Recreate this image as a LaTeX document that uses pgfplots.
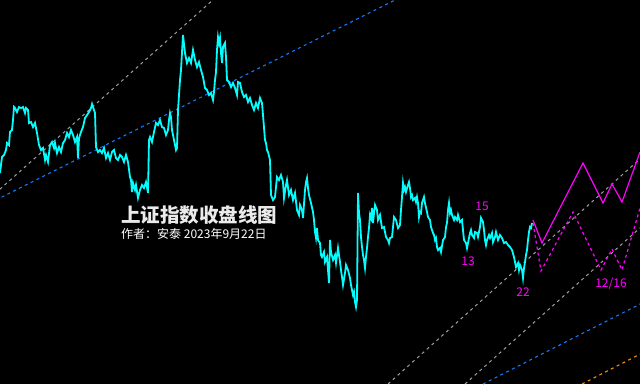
\documentclass[border=0pt]{standalone}
\usepackage{fontspec}
\setmainfont{Noto Sans CJK SC}
\usepackage{pgfplots}
\pgfplotsset{compat=1.18}
\definecolor{cy}{RGB}{0,255,255}
\definecolor{mg}{RGB}{255,0,255}
\definecolor{gr}{RGB}{160,160,160}
\definecolor{bl}{RGB}{20,120,255}
\definecolor{org}{RGB}{255,140,0}
\begin{document}
\begin{tikzpicture}
\begin{axis}[
  scale only axis, width=640pt, height=384pt,
  xmin=0, xmax=640, ymin=0, ymax=384, y dir=reverse,
  hide axis, clip=true,
]
\fill[black] (rel axis cs:0,0) rectangle (rel axis cs:1,1);
% trend lines
\addplot[gr, line width=1pt, dash pattern=on 3pt off 3.5pt] coordinates {(-10,198) (223,-9)};
\addplot[bl, line width=1.1pt, dash pattern=on 3pt off 3.5pt] coordinates {(-10,203) (400,-2.5)};
\addplot[gr, line width=1pt, dash pattern=on 3pt off 3.5pt] coordinates {(388,384) (650,150)};
\addplot[gr, line width=1pt, dash pattern=on 3pt off 3.5pt] coordinates {(465,384) (650,219)};
\addplot[bl, line width=1.1pt, dash pattern=on 3pt off 3.5pt] coordinates {(483,384) (650,299)};
\addplot[org, line width=1.1pt, dash pattern=on 3pt off 3.5pt] coordinates {(582,384) (650,349)};
% projections
\addplot[mg, line width=1.2pt] coordinates {(533,220) (542,243) (583,163) (603,203) (612,184) (622,202) (640,152)};
\addplot[mg, line width=1.2pt, dash pattern=on 3pt off 3pt] coordinates {(533,223) (541,271) (573,212) (601,270) (612,249) (622,270) (640,208)};
% index close
\addplot[cy, line width=1.8pt] coordinates {
(0,173) (2,157) (4,155) (6,150) (7,143) (9,145) (10,132) (12,130) (13,120) (14,107)
(15,108) (17,112) (19,107) (21,108) (23,107) (25,113) (26,108) (28,110) (29,123) (31,122)
(33,127) (35,123) (37,133) (39,145) (41,150) (43,148) (45,160) (46,155) (48,162) (50,145)
(52,142) (54,148) (55,143) (57,153) (59,147) (61,152) (63,143) (65,140) (67,133) (69,137)
(71,130) (73,135) (75,142) (77,137) (78,158) (79,138) (81,132) (83,127) (85,118) (87,115)
(89,112) (91,108) (92,104) (94,110) (95,113) (96,147) (98,152) (100,150) (102,153) (104,148)
(106,158) (108,153) (110,160) (112,152) (114,150) (116,158) (118,160) (120,155) (122,157) (124,162)
(126,155) (128,162) (130,177) (131,180) (132,192) (133,183) (135,190) (136,185) (138,198) (140,190)
(142,185) (144,188) (146,182) (148,193) (149,140) (150,137) (152,142) (154,132) (156,123) (158,125)
(160,120) (162,127) (164,128) (166,135) (168,130) (169,120) (170,113) (171,117) (172,130) (174,140)
(176,150) (177,148) (178,110) (180,80) (181,70) (183,35) (185,53) (187,63) (189,58) (191,63)
(193,50) (195,60) (197,67) (199,62) (201,70) (203,77) (205,88) (207,90) (209,95) (211,93)
(213,100) (214,92) (215,80) (216,72) (217,50) (218,37) (219,43) (220,38) (221,53) (222,63)
(223,47) (225,43) (226,57) (227,80) (229,82) (231,87) (233,83) (235,88) (237,95) (238,82)
(240,83) (242,92) (244,97) (246,95) (248,102) (250,98) (252,105) (254,110) (256,103) (258,108)
(260,98) (262,103) (263,115) (265,140) (266,143) (267,150) (268,152) (270,160) (271,195) (273,200)
(275,197) (277,177) (279,180) (281,175) (283,182) (284,198) (286,185) (287,180) (289,195) (291,190)
(293,200) (295,193) (297,210) (299,215) (300,205) (302,210) (303,218) (305,190) (306,182) (307,178)
(308,188) (309,195) (311,203) (313,212) (314,220) (315,232) (316,238) (317,228) (318,240) (320,243)
(321,255) (322,257) (324,252) (325,262) (327,257) (328,270) (329,283) (330,240) (331,252) (333,260)
(335,255) (336,263) (338,248) (340,262) (341,270) (342,277) (343,285) (345,273) (346,265) (348,270)
(350,278) (351,285) (352,290) (353,295) (354,292) (355,302) (356,307) (357,300) (358,193) (359,213)
(360,220) (361,237) (362,247) (363,255) (364,260) (365,268) (366,257) (367,248) (368,237) (369,228)
(370,215) (371,218) (372,208) (373,223) (374,213) (375,205) (377,210) (378,220) (380,215) (382,228)
(384,227) (386,237) (388,240) (389,243) (390,238) (392,237) (393,227) (394,217) (396,220) (398,228)
(400,225) (401,210) (402,197) (403,183) (404,190) (405,187) (406,192) (408,185) (409,182) (410,188)
(411,197) (412,195) (413,200) (415,198) (416,202) (417,197) (418,203) (419,217) (420,212) (421,213)
(422,203) (424,197) (425,203) (427,212) (428,217) (430,220) (431,227) (433,233) (434,235) (435,240)
(436,238) (437,247) (438,250) (440,248) (441,252) (443,240) (445,237) (446,227) (447,223) (448,210)
(449,203) (450,213) (451,210) (452,215) (454,220) (455,217) (457,220) (458,215) (460,222) (462,220)
(463,230) (464,240) (466,243) (467,248) (468,243) (470,233) (471,230) (472,235) (474,238) (475,232)
(477,233) (478,237) (480,227) (481,218) (483,222) (484,230) (485,240) (486,245) (487,240) (489,235)
(490,238) (492,233) (493,242) (495,237) (496,232) (498,240) (500,235) (502,238) (504,243) (506,242)
(508,245) (510,247) (512,250) (514,257) (515,262) (516,267) (518,263) (519,270) (520,265) (522,270)
(523,278) (524,268) (525,262) (526,255) (527,250) (528,240) (529,232) (530,227) (531,228) (532,223)
};
% texts
\node[anchor=base west, inner sep=0pt, text={rgb,255:red,235;green,235;blue,235}, font=\fontsize{19.5}{20}\selectfont\bfseries] at (axis cs:121,222) {上证指数收盘线图};
\node[anchor=base west, inner sep=0pt, text=white, font=\fontsize{12}{13}\selectfont] at (axis cs:121,238) {作者：安泰 2023年9月22日};
\node[text=mg, inner sep=0pt, font=\fontsize{12}{13}\selectfont] at (axis cs:482,206) {15};
\node[text=mg, inner sep=0pt, font=\fontsize{12}{13}\selectfont] at (axis cs:468,261) {13};
\node[text=mg, inner sep=0pt, font=\fontsize{12}{13}\selectfont] at (axis cs:523,292) {22};
\node[text=mg, inner sep=0pt, font=\fontsize{12}{13}\selectfont] at (axis cs:611,284) {12/16};
\end{axis}
\end{tikzpicture}
\end{document}
